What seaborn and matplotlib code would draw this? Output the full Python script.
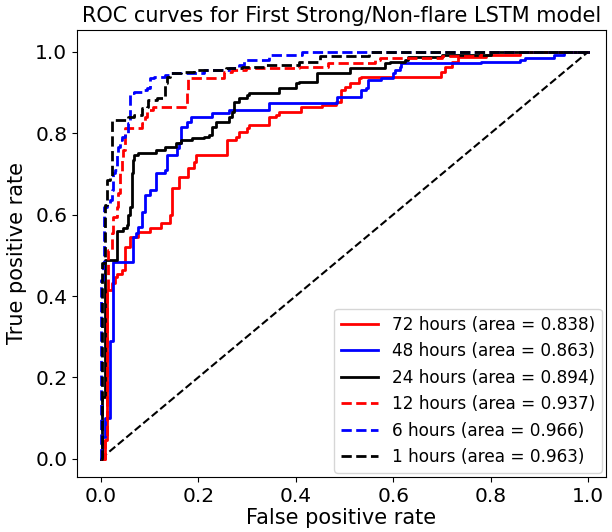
import matplotlib
matplotlib.use("Agg")
import matplotlib.pyplot as plt
import seaborn as sns
import pandas as pd

# ---- data ----
labels = ["72 hours (area = 0.838)", "48 hours (area = 0.863)", "24 hours (area = 0.894)",
          "12 hours (area = 0.937)", "6 hours (area = 0.966)", "1 hours (area = 0.963)"]

fpr72 = [0.0, 0.008, 0.012, 0.022, 0.029, 0.033, 0.043, 0.049, 0.059, 0.076, 0.100, 0.124, 0.141,
         0.147, 0.161, 0.178, 0.192, 0.196, 0.259, 0.277, 0.284, 0.300, 0.304, 0.345, 0.359, 0.365,
         0.410, 0.453, 0.482, 0.492, 0.502, 0.512, 0.529, 0.535, 0.698, 0.706, 0.720, 0.733, 0.790,
         0.860, 1.0]
tpr72 = [0.0, 0.047, 0.415, 0.432, 0.447, 0.455, 0.464, 0.520, 0.545, 0.558, 0.568, 0.580, 0.600,
         0.666, 0.693, 0.715, 0.730, 0.747, 0.784, 0.791, 0.803, 0.813, 0.821, 0.840, 0.845, 0.853,
         0.865, 0.870, 0.877, 0.907, 0.915, 0.924, 0.936, 0.939, 0.951, 0.963, 0.975, 0.988, 0.993,
         1.0, 1.0]

fpr48 = [0.0, 0.002, 0.008, 0.018, 0.024, 0.065, 0.073, 0.076, 0.084, 0.090, 0.100, 0.114, 0.131,
         0.135, 0.157, 0.161, 0.165, 0.176, 0.186, 0.229, 0.263, 0.345, 0.484, 0.535, 0.545, 0.549,
         0.576, 0.600, 0.604, 0.614, 0.616, 0.780, 0.861, 0.870, 0.930, 0.950, 1.0]
tpr48 = [0.0, 0.054, 0.100, 0.290, 0.484, 0.545, 0.555, 0.570, 0.607, 0.649, 0.661, 0.703, 0.710,
         0.747, 0.764, 0.776, 0.816, 0.828, 0.840, 0.850, 0.857, 0.875, 0.889, 0.907, 0.912, 0.931,
         0.936, 0.948, 0.956, 0.963, 0.973, 0.975, 0.980, 0.985, 0.993, 1.0, 1.0]

fpr24 = [0.0, 0.002, 0.008, 0.033, 0.045, 0.053, 0.055, 0.059, 0.063, 0.065, 0.069, 0.076, 0.114,
         0.131, 0.155, 0.165, 0.188, 0.212, 0.222, 0.229, 0.237, 0.263, 0.269, 0.273, 0.284, 0.300,
         0.304, 0.365, 0.400, 0.406, 0.443, 0.512, 0.584, 0.594, 0.624, 0.631, 0.700, 0.800, 1.0]
tpr24 = [0.0, 0.152, 0.489, 0.560, 0.568, 0.575, 0.600, 0.619, 0.703, 0.735, 0.747, 0.752, 0.759,
         0.767, 0.776, 0.784, 0.789, 0.791, 0.796, 0.816, 0.828, 0.840, 0.853, 0.877, 0.887, 0.894,
         0.899, 0.912, 0.924, 0.926, 0.948, 0.961, 0.973, 0.975, 0.980, 0.988, 0.993, 1.0, 1.0]

fpr12 = [0.0, 0.008, 0.012, 0.014, 0.022, 0.024, 0.033, 0.035, 0.039, 0.043, 0.045, 0.049, 0.084,
         0.090, 0.094, 0.106, 0.176, 0.178, 0.253, 0.269, 0.298, 0.406, 0.467, 0.563, 0.573, 0.700,
         0.780, 1.0]
tpr12 = [0.0, 0.047, 0.415, 0.514, 0.555, 0.595, 0.619, 0.654, 0.703, 0.735, 0.759, 0.813, 0.826,
         0.840, 0.858, 0.865, 0.907, 0.936, 0.951, 0.956, 0.961, 0.963, 0.973, 0.980, 0.985, 0.990,
         1.0, 1.0]

fpr6 = [0.0, 0.0, 0.004, 0.006, 0.012, 0.018, 0.022, 0.024, 0.029, 0.033, 0.035, 0.039, 0.043,
        0.049, 0.055, 0.059, 0.069, 0.084, 0.094, 0.100, 0.110, 0.131, 0.141, 0.212, 0.263, 0.284,
        0.294, 0.345, 0.412, 1.0]
tpr6 = [0.0, 0.440, 0.480, 0.620, 0.629, 0.636, 0.661, 0.703, 0.710, 0.752, 0.767, 0.784, 0.790,
        0.801, 0.826, 0.899, 0.902, 0.907, 0.912, 0.936, 0.939, 0.943, 0.948, 0.956, 0.961, 0.968,
        0.980, 0.993, 1.0, 1.0]

fpr1 = [0.0, 0.002, 0.008, 0.012, 0.018, 0.022, 0.055, 0.069, 0.084, 0.094, 0.096, 0.116, 0.127,
        0.131, 0.135, 0.141, 0.165, 0.192, 0.257, 0.290, 0.339, 0.406, 0.450, 0.550, 1.0]
tpr1 = [0.0, 0.480, 0.624, 0.685, 0.693, 0.833, 0.840, 0.845, 0.862, 0.865, 0.882, 0.887, 0.889,
        0.924, 0.939, 0.948, 0.951, 0.956, 0.961, 0.963, 0.968, 0.975, 0.990, 1.0, 1.0]

diag = [0.0, 1.0]

curves = [(fpr72, tpr72), (fpr48, tpr48), (fpr24, tpr24), (fpr12, tpr12), (fpr6, tpr6), (fpr1, tpr1)]
colors = ["red", "blue", "black", "red", "blue", "black"]
styles = ["-", "-", "-", "--", "--", "--"]

fig = plt.figure(figsize=(6.12, 5.32), dpi=100)
ax = fig.add_axes([77 / 612, 1 - 477 / 532, (606 - 77) / 612, (477 - 30) / 532])

sns.lineplot(x=diag, y=diag, ax=ax, color="black", linestyle="--", linewidth=1.5)

for (fx, ty), lab, col, ls in zip(curves, labels, colors, styles):
    df = pd.DataFrame({"fpr": fx, "tpr": ty})
    sns.lineplot(data=df, x="fpr", y="tpr", ax=ax, sort=False, estimator=None,
                 color=col, linestyle=ls, linewidth=2, label=lab, drawstyle="steps-post")

ax.set_xlim(-0.049, 1.037)
ax.set_ylim(-0.045, 1.054)
ax.set_xticks([0.0, 0.2, 0.4, 0.6, 0.8, 1.0])
ax.set_yticks([0.0, 0.2, 0.4, 0.6, 0.8, 1.0])
ax.tick_params(labelsize=14.5)
ax.set_xlabel("False positive rate", fontsize=15, labelpad=2)
ax.set_ylabel("True positive rate", fontsize=15, labelpad=6)
ax.set_title("ROC curves for First Strong/Non-flare LSTM model", fontsize=15, pad=6)
ax.legend(loc="lower right", fontsize=12.2, handlelength=2.2, borderaxespad=0.25)

fig.savefig("out.png", dpi=100)
